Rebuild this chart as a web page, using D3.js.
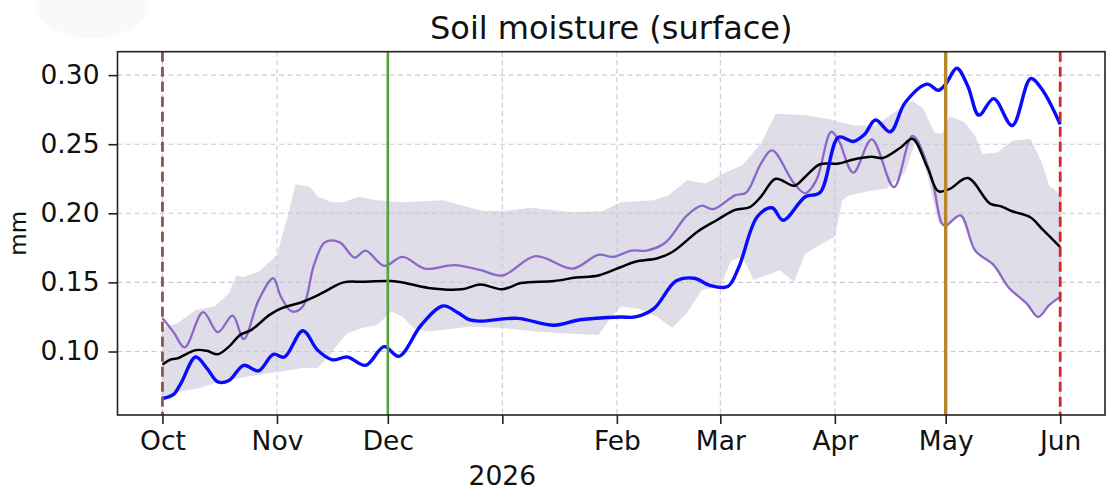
<!DOCTYPE html>
<html>
<head>
<meta charset="utf-8">
<title>Soil moisture (surface)</title>
<script src="https://d3js.org/d3.v7.min.js"></script>
<style>
  body { margin: 0; background: #fff; }
  text { font-family: "DejaVu Sans", sans-serif; fill: #111; }
</style>
</head>
<body>
<script type="text/javascript">

// day offsets counted from 1 Oct 2025, values in mm
var startDate = new Date(2025, 9, 1);

var observed = [[0,0.066],[3,0.069],[5,0.077],[9,0.096],[12,0.088],[15,0.078],[18,0.079],
  [22,0.090],[26,0.086],[30,0.098],[33,0.096],[38,0.115],[42,0.101],[46,0.094],[50,0.096],
  [55,0.090],[60,0.1035],[64,0.0965],[70,0.119],[76,0.133],[80,0.128],[83,0.123],[86,0.122],
  [96,0.124],[106,0.119],[113,0.123],[124,0.125],[128,0.125],[133,0.131],[139,0.151],
  [144,0.153],[148,0.148],[153,0.147],[156,0.161],[161,0.1975],[165,0.204],[168,0.195],
  [174,0.212],[178,0.215],[183,0.255],[187,0.252],[190,0.257],[193,0.2675],[197,0.259],
  [201,0.280],[207,0.2935],[210,0.289],[212,0.2935],[215,0.305],[218,0.292],[221,0.271],
  [225,0.283],[230,0.2635],[235,0.2975],[238,0.290],[243,0.2645]];

var lastYear = [[0,0.124],[3,0.114],[6,0.103],[11,0.1285],[15,0.114],[19,0.126],[22,0.109],
  [26,0.137],[30,0.153],[32,0.140],[35,0.129],[38,0.1325],[41,0.1625],[44,0.179],[48,0.179],
  [52,0.168],[55,0.173],[60,0.162],[65,0.1685],[71,0.160],[79,0.1625],[86,0.159],[92,0.155],
  [101,0.169],[111,0.160],[118,0.170],[122,0.1685],[127,0.173],[131,0.173],[136,0.1785],
  [142,0.1985],[146,0.2055],[149,0.203],[155,0.213],[158,0.215],[162,0.236],[165,0.2455],
  [171,0.2215],[174,0.2145],[177,0.224],[181,0.259],[183,0.253],[187,0.2295],[192,0.2535],
  [198,0.219],[203,0.256],[208,0.2275],[211,0.1925],[212,0.191],[216,0.1985],[220,0.173],
  [225,0.1625],[229,0.1465],[234,0.1345],[237,0.125],[240,0.1335],[243,0.1395]];

var meanLine = [[0,0.0905],[2,0.094],[4,0.095],[9,0.101],[12,0.1005],[15,0.098],[18,0.1035],
  [21,0.112],[24,0.1155],[29,0.1265],[32,0.131],[38,0.136],[43,0.142],[49,0.150],[54,0.1505],
  [62,0.151],[65,0.150],[72,0.146],[81,0.145],[86,0.1485],[92,0.145],[97,0.1495],[106,0.151],
  [112,0.1535],[118,0.155],[124,0.161],[128,0.165],[134,0.1675],[138,0.172],[145,0.187],
  [150,0.195],[155,0.2025],[159,0.2045],[162,0.212],[166,0.225],[171,0.220],[174,0.2265],
  [178,0.2355],[183,0.236],[187,0.239],[192,0.241],[195,0.240],[200,0.248],[203,0.254],
  [207,0.2335],[210,0.216],[213,0.2175],[218,0.2255],[224,0.207],[227,0.205],[230,0.2015],
  [235,0.197],[238,0.189],[243,0.1755]];

var bandUpper = [[0,0.117],[4,0.1205],[9,0.130],[14,0.1325],[18,0.142],[20,0.155],[22,0.154],
  [26,0.1575],[31,0.170],[34,0.199],[36,0.221],[40,0.219],[42,0.212],[46,0.208],[49,0.208],
  [53,0.212],[58,0.2095],[65,0.208],[76,0.2095],[86,0.202],[92,0.2015],[100,0.204],[110,0.201],
  [119,0.2015],[124,0.208],[133,0.2095],[137,0.213],[142,0.224],[147,0.2215],[152,0.229],
  [157,0.235],[162,0.2505],[166,0.272],[174,0.271],[180,0.2685],[187,0.2635],[193,0.2635],
  [198,0.273],[203,0.2815],[206,0.2755],[209,0.2585],[211,0.2575],[213,0.2705],[217,0.266],
  [220,0.256],[222,0.243],[226,0.244],[230,0.2525],[235,0.254],[238,0.237],[240,0.220],
  [243,0.214]];

var bandLower = [[0,0.0675],[5,0.071],[10,0.0735],[14,0.077],[19,0.0795],[23,0.082],[28,0.084],
  [32,0.0855],[38,0.088],[42,0.088],[45,0.0965],[48,0.107],[50,0.113],[54,0.117],[58,0.119],
  [62,0.129],[65,0.125],[68,0.117],[72,0.1145],[83,0.118],[92,0.117],[101,0.1145],[110,0.113],
  [118,0.112],[121,0.123],[124,0.1325],[129,0.131],[134,0.125],[138,0.117],[142,0.128],
  [146,0.1445],[151,0.147],[154,0.166],[157,0.1685],[160,0.152],[165,0.1565],[167,0.159],
  [171,0.1505],[174,0.171],[178,0.177],[182,0.183],[184,0.2095],[186,0.213],[192,0.2165],
  [196,0.218],[201,0.2295],[204,0.2535],[207,0.2275],[210,0.1935],[212,0.190],[216,0.1985],
  [220,0.173],[225,0.1625],[229,0.1465],[234,0.1345],[237,0.125],[240,0.1335],[243,0.1395]];

var yTicks = [0.10, 0.15, 0.20, 0.25, 0.30];
var monthTicks = ["2025-10-01","2025-11-01","2025-12-01","2026-01-01","2026-02-01",
  "2026-03-01","2026-04-01","2026-05-01","2026-06-01"];
var yearLabel = "2026";

// event markers: date, colour, dash
var markers = [
  {date: "2025-10-01", color: "#8c564b", dash: "10,5", w: 2.8},
  {date: "2025-12-01", color: "#55a23b", dash: null, w: 2.6},
  {date: "2026-05-01", color: "#b8872c", dash: null, w: 3.4},
  {date: "2026-06-01", color: "#d62728", dash: "10,5", w: 2.8}
];

var width = 1120;
var height = 498;
var margin = {left: 117.5, right: 15, top: 51.7, bottom: 83};

var parse = d3.timeParse("%Y-%m-%d");
function toDate(d){ return d3.timeDay.offset(startDate, d); }

var svg = d3.select("body")
  .append("svg")
  .attr("width", width)
  .attr("height", height);

// faint smudge at the top left of the original
svg.append("ellipse")
  .attr("cx", 92).attr("cy", 8).attr("rx", 56).attr("ry", 30)
  .attr("fill", "#f9f9fa");

var allDays = observed.concat(lastYear, meanLine, bandUpper, bandLower);
var dayExt = d3.extent(allDays, function(d){ return d[0]; });
var dayPad = (dayExt[1] - dayExt[0]) * 0.05;
var valExt = d3.extent(allDays, function(d){ return d[1]; });
var valPad = (valExt[1] - valExt[0]) * 0.05;

var x = d3.scaleTime()
  .domain([d3.timeHour.offset(toDate(dayExt[0]), -dayPad * 24),
           d3.timeHour.offset(toDate(dayExt[1]), dayPad * 24)])
  .range([margin.left, width - margin.right]);

var y = d3.scaleLinear()
  .domain([valExt[0] - valPad, valExt[1] + valPad])
  .range([height - margin.bottom, margin.top]);

var plotLeft = margin.left, plotRight = width - margin.right;
var plotTop = margin.top, plotBottom = height - margin.bottom;

// band
var bandPts = bandUpper.concat(bandLower.slice().reverse());
var bandLine = d3.line()
  .x(function(d){ return x(toDate(d[0])); })
  .y(function(d){ return y(d[1]); })
  .curve(d3.curveLinearClosed);

svg.append("path")
  .attr("d", bandLine(bandPts))
  .attr("fill", "#dfdde7");

// grid
var gGrid = svg.append("g")
  .attr("stroke", "#cbc8d7")
  .attr("stroke-width", 1.1)
  .attr("stroke-dasharray", "5,3.5");

gGrid.selectAll(".hgrid")
  .data(yTicks)
  .enter()
  .append("line")
  .attr("x1", plotLeft).attr("x2", plotRight)
  .attr("y1", function(d){ return y(d); })
  .attr("y2", function(d){ return y(d); });

gGrid.selectAll(".vgrid")
  .data(monthTicks)
  .enter()
  .append("line")
  .attr("y1", plotTop).attr("y2", plotBottom)
  .attr("x1", function(d){ return x(parse(d)); })
  .attr("x2", function(d){ return x(parse(d)); });

// series
var line = d3.line()
  .x(function(d){ return x(toDate(d[0])); })
  .y(function(d){ return y(d[1]); })
  .curve(d3.curveCatmullRom.alpha(0.5));

svg.append("path")
  .attr("d", line(lastYear))
  .attr("fill", "none")
  .attr("stroke", "#8c66c8")
  .attr("stroke-width", 2.3);

svg.append("path")
  .attr("d", line(meanLine))
  .attr("fill", "none")
  .attr("stroke", "#000")
  .attr("stroke-width", 2.5);

svg.append("path")
  .attr("d", line(observed))
  .attr("fill", "none")
  .attr("stroke", "#0a0aff")
  .attr("stroke-width", 3.4);

// event markers
svg.selectAll(".marker")
  .data(markers)
  .enter()
  .append("line")
  .attr("x1", function(d){ return x(parse(d.date)); })
  .attr("x2", function(d){ return x(parse(d.date)); })
  .attr("y1", plotTop).attr("y2", plotBottom)
  .attr("stroke", function(d){ return d.color; })
  .attr("stroke-width", function(d){ return d.w; })
  .attr("stroke-dasharray", function(d){ return d.dash; });

// axes
var yAxis = d3.axisLeft(y)
  .tickValues(yTicks)
  .tickFormat(d3.format(".2f"))
  .tickSize(9)
  .tickPadding(9);

var xAxis = d3.axisBottom(x)
  .tickValues(monthTicks.map(parse))
  .tickFormat(function(d){ return d.getMonth() == 0 ? "" : d3.timeFormat("%b")(d); })
  .tickSize(9)
  .tickPadding(7);

var gy = svg.append("g")
  .attr("transform", "translate(" + plotLeft + ",0)")
  .call(yAxis);

var gx = svg.append("g")
  .attr("transform", "translate(0," + plotBottom + ")")
  .call(xAxis);

[gx, gy].forEach(function(g){
  g.select(".domain").remove();
  g.selectAll(".tick line").attr("stroke", "#222").attr("stroke-width", 1.6);
  g.selectAll(".tick text")
    .style("font-family", "'DejaVu Sans', sans-serif")
    .style("font-size", "26.5px")
    .attr("fill", "#111");
});

// frame
svg.append("rect")
  .attr("x", plotLeft).attr("y", plotTop)
  .attr("width", plotRight - plotLeft).attr("height", plotBottom - plotTop)
  .attr("fill", "none")
  .attr("stroke", "#222")
  .attr("stroke-width", 1.6);

svg.append("text")
  .attr("x", x(parse(monthTicks[3])))
  .attr("y", 485)
  .attr("text-anchor", "middle")
  .style("font-size", "26.5px")
  .text(yearLabel);

svg.append("text")
  .attr("transform", "translate(26," + ((plotTop + plotBottom) / 2) + ") rotate(-90)")
  .attr("text-anchor", "middle")
  .style("font-size", "23px")
  .text("mm");

svg.append("text")
  .attr("x", (plotLeft + plotRight) / 2)
  .attr("y", 38.5)
  .attr("text-anchor", "middle")
  .style("font-size", "32px")
  .text("Soil moisture (surface)");

</script>
</body>
</html>
